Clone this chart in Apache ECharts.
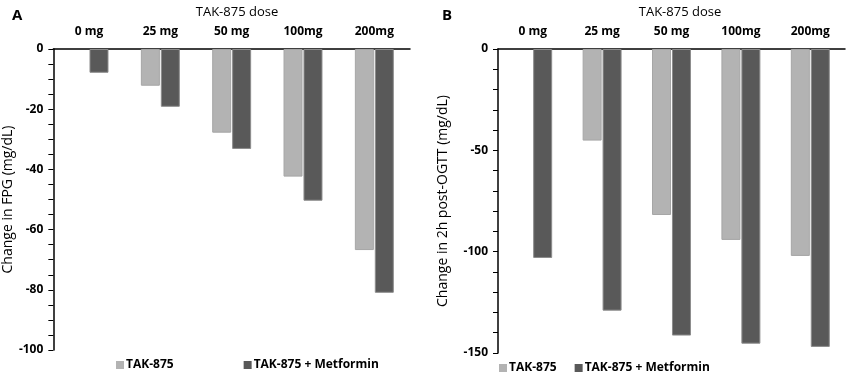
<!DOCTYPE html>
<html>
<head>
<meta charset="utf-8">
<script src="https://cdn.jsdelivr.net/npm/echarts@6/dist/echarts.min.js"></script>
<style>
  html, body { margin: 0; padding: 0; background: #fff; }
  #chart1 { width: 851px; height: 372px; }
</style>
</head>
<body>
<div id="chart1"></div>
<script>
/* TAK-875 剂量柱状图 */

var doses = ['0 mg', '25 mg', '50 mg', '100mg', '200mg'];

// A: FPG 变化
var fpgTak = [null, -12.2, -27.8, -42.4, -66.8];
var fpgTakMet = [-7.9, -19.2, -33.2, -50.4, -81];

// B: 2h post-OGTT 变化
var ogttTak = [null, -45.2, -81.9, -94.2, -102.1];
var ogttTakMet = [-103.1, -129.1, -141.4, -145.4, -147];

var nameTak = 'TAK-875';
var nameMet = 'TAK-875 + Metformin';

var FONT = '"Open Sans", "Noto Sans", sans-serif';
var lightColor = '#b3b3b3';
var darkColor = '#595959';

var chart = echarts.init(document.getElementById('chart1'));

function xAx(idx) {
    return {
        type: 'category',
        gridIndex: idx,
        position: 'top',
        data: doses,
        axisLine: { lineStyle: { color: '#000', width: 1.5 } },
        axisTick: { show: false },
        axisLabel: { color: '#000', fontFamily: FONT, fontWeight: 'bold', fontSize: 12, margin: 11 }
    };
}

function yAx(idx, min, interval, minorSplit, name, nameGap) {
    return {
        type: 'value',
        gridIndex: idx,
        min: min,
        max: 0,
        interval: interval,
        name: name,
        nameLocation: 'middle',
        nameGap: nameGap,
        nameRotate: 90,
        nameTextStyle: { color: '#000', fontFamily: FONT, fontSize: 14 },
        axisLine: { show: true, lineStyle: { color: '#000', width: 1.5 } },
        axisTick: { show: true, length: 5, lineStyle: { color: '#000', width: 1 } },
        minorTick: { show: true, splitNumber: minorSplit, length: 5, lineStyle: { color: '#000', width: 1 } },
        splitLine: { show: false },
        axisLabel: { color: '#000', fontFamily: FONT, fontWeight: 'bold', fontSize: 12, margin: 10 }
    };
}

function barSeries(name, data, axisIdx, color, border) {
    return {
        name: name,
        type: 'bar',
        xAxisIndex: axisIdx,
        yAxisIndex: axisIdx,
        data: data,
        barWidth: 19,
        barGap: '5%',
        itemStyle: { color: color, borderColor: border, borderWidth: 1 }
    };
}

function legendAt(left, top, gap) {
    return {
        data: [nameTak, nameMet],
        left: left, top: top,
        itemWidth: 8, itemHeight: 8, itemGap: gap,
        icon: 'rect',
        selectedMode: false,
        itemStyle: { borderWidth: 0 },
        textStyle: { color: '#000', fontFamily: FONT, fontWeight: 'bold', fontSize: 12, padding: [0, 0, 0, -3] }
    };
}

var option = {
    animation: false,
    textStyle: { fontFamily: FONT },
    title: [
        { text: 'A', left: 7, top: 3, textStyle: { fontSize: 15, fontWeight: 'bold', color: '#000', fontFamily: FONT } },
        { text: 'TAK-875 dose', left: 232, top: 1, textAlign: 'center', textStyle: { fontSize: 13, fontWeight: 'normal', color: '#000', fontFamily: FONT } },
        { text: 'B', left: 437, top: 3, textStyle: { fontSize: 15, fontWeight: 'bold', color: '#000', fontFamily: FONT } },
        { text: 'TAK-875 dose', left: 675, top: 1, textAlign: 'center', textStyle: { fontSize: 13, fontWeight: 'normal', color: '#000', fontFamily: FONT } }
    ],
    legend: [
        legendAt(111, 354, 70),
        legendAt(494, 357, 18)
    ],
    grid: [
        { left: 53, top: 49, width: 357, height: 301 },
        { left: 498, top: 49, width: 347, height: 304 }
    ],
    xAxis: [xAx(0), xAx(1)],
    yAxis: [
        yAx(0, -100, 20, 4, 'Change in FPG (mg/dL)', 36),
        yAx(1, -150, 50, 5, 'Change in 2h post-OGTT (mg/dL)', 48)
    ],
    series: [
        barSeries(nameTak, fpgTak, 0, lightColor, '#a6a6a6'),
        barSeries(nameMet, fpgTakMet, 0, darkColor, '#8c8c8c'),
        barSeries(nameTak, ogttTak, 1, lightColor, '#a6a6a6'),
        barSeries(nameMet, ogttTakMet, 1, darkColor, '#8c8c8c')
    ]
};

chart.setOption(option);
</script>
</body>
</html>
